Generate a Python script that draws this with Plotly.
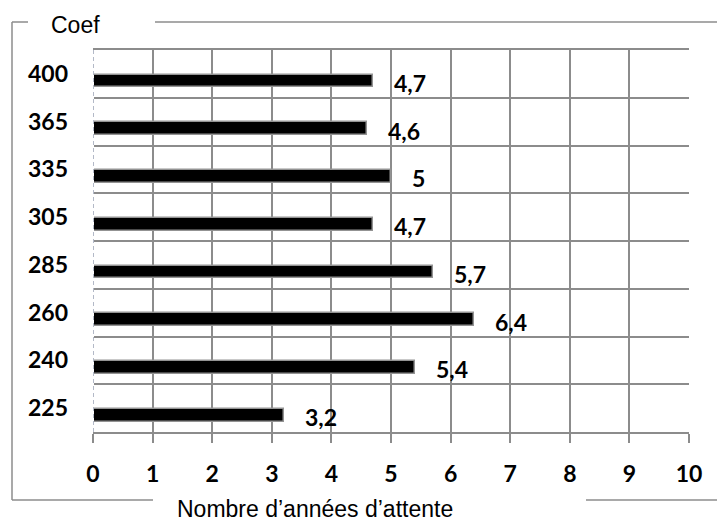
import plotly.graph_objects as go

categories = ["225", "240", "260", "285", "305", "335", "365", "400"]
values = [3.2, 5.4, 6.4, 5.7, 4.7, 5, 4.6, 4.7]
x_ticks = [0, 1, 2, 3, 4, 5, 6, 7, 8, 9, 10]
y_title = "Coef"
x_title = "Nombre d\u2019années d\u2019attente"

# page body adds an 8px margin: figure pixel = screenshot pixel - 8
OFF = 8
W, H = 725 - OFF, 521 - OFF
L, T = 93 - OFF, 50 - OFF
R, B = W - (689 - OFF), H - (432 - OFF)
PW, PH = W - L - R, H - T - B

def px(x):
    return (x - OFF - L) / PW

def py(y):
    return (H - B - (y - OFF)) / PH

def fmt(v):
    return ("%g" % v).replace(".", ",")

GRID = "#8c8c8c"
BOLD = dict(family="Lato", size=23, color="black", weight="bold")

fig = go.Figure()
fig.add_trace(go.Bar(
    orientation="h", x=values, y=categories,
    width=0.27, offset=-0.285,
    marker=dict(color="black", line=dict(color="#939393", width=1.5)),
    hoverinfo="skip",
))

annotations = []
for i, v in enumerate(values):
    annotations.append(dict(
        x=v, y=i, xref="x", yref="y", text="<b>" + fmt(v) + "</b>", showarrow=False,
        xanchor="left", yanchor="middle", xshift=19, yshift=-9,
        font=BOLD,
    ))
annotations.append(dict(x=px(75), y=py(25), xref="paper", yref="paper", text=y_title,
                        showarrow=False, xanchor="center", yanchor="middle",
                        font=dict(family="Liberation Sans", size=23, color="black")))
annotations.append(dict(x=px(315), y=py(509), xref="paper", yref="paper", text=x_title,
                        showarrow=False, xanchor="center", yanchor="middle",
                        font=dict(family="Liberation Sans", size=23, color="black")))

frame = dict(color="#8c8c8c", width=1.5)
shapes = [
    dict(type="line", xref="paper", yref="paper", x0=px(12), x1=px(12), y0=py(22), y1=py(500), line=frame),
    dict(type="line", xref="paper", yref="paper", x0=px(12), x1=px(28), y0=py(22), y1=py(22), line=frame),
    dict(type="line", xref="paper", yref="paper", x0=px(155), x1=px(730), y0=py(22), y1=py(22), line=frame),
    dict(type="line", xref="paper", yref="paper", x0=px(12), x1=px(153), y0=py(500), y1=py(500), line=frame),
    dict(type="line", xref="paper", yref="paper", x0=px(586), x1=px(730), y0=py(500), y1=py(500), line=frame),
    dict(type="line", xref="x", yref="paper", x0=0, x1=0, y0=0, y1=1, line=dict(color="white", width=2), layer="above"),
    dict(type="line", xref="x", yref="paper", x0=0, x1=0, y0=0, y1=1, line=dict(color="#9aa3b5", width=1.5, dash="4px,3px"), layer="above"),
]

fig.update_layout(
    width=W, height=H,
    margin=dict(l=L, r=R, t=T, b=B),
    paper_bgcolor="white", plot_bgcolor="white",
    showlegend=False,
    annotations=annotations, shapes=shapes,
    xaxis=dict(
        range=[0, 10], tickvals=x_ticks, ticktext=[str(t) for t in x_ticks],
        showgrid=True, gridcolor=GRID, gridwidth=1.5, zeroline=False,
        showline=True, linecolor=GRID, linewidth=1.5, mirror=True,
        ticks="outside", ticklen=9, tickcolor=GRID, tickwidth=1.5,
        tickfont=BOLD, ticklabelstandoff=12,
    ),
    yaxis=dict(
        type="category", categoryorder="array", categoryarray=categories,
        range=[-0.5, 7.5], tickson="boundaries",
        showgrid=True, gridcolor=GRID, gridwidth=1.5, zeroline=False,
        showline=False, ticks="", tickfont=BOLD, ticklabelstandoff=24,
    ),
    bargap=0,
)

fig.write_html("out.html")
